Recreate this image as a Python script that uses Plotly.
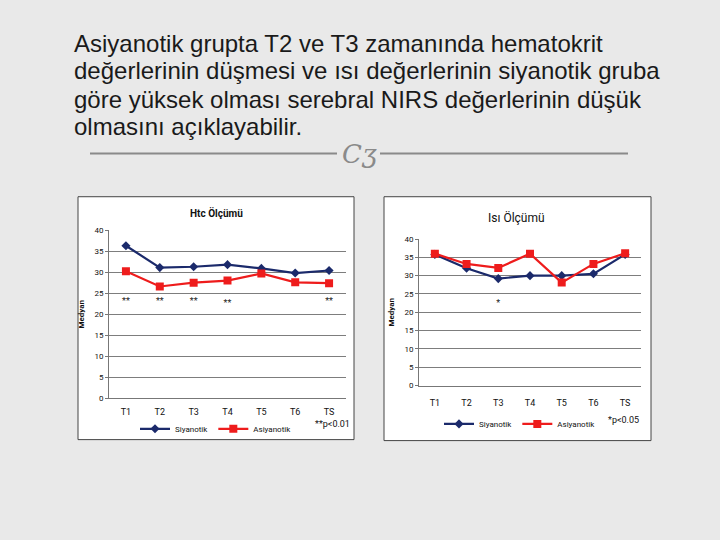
import plotly.graph_objects as go

categories = ["T1", "T2", "T3", "T4", "T5", "T6", "TS"]
x_idx = list(range(len(categories)))

htc_siyanotik = [36.3, 31.1, 31.3, 31.8, 30.9, 29.8, 30.4]
htc_asiyanotik = [30.2, 26.6, 27.5, 28.0, 29.7, 27.6, 27.4]
htc_star_idx = [0, 1, 2, 3, 6]
htc_star_y = [23.0, 23.0, 23.0, 22.6, 23.0]

isi_siyanotik = [35.8, 32.0, 29.2, 30.0, 30.0, 30.5, 35.8]
isi_asiyanotik = [36.0, 33.2, 32.1, 36.0, 28.1, 33.2, 36.1]
isi_star_idx = [2]
isi_star_y = [22.2]

slide_lines = [
    "Asiyanotik grupta T2 ve T3 zamanında hematokrit",
    "değerlerinin düşmesi ve ısı değerlerinin siyanotik gruba",
    "göre yüksek olması serebral NIRS değerlerinin düşük",
    "olmasını açıklayabilir.",
]

W, H = 720, 540
def px(x):
    return x / W
def py(y):
    return 1 - y / H

NAVY = "#1b2a6b"
RED = "#ee1c1c"
CF = "Liberation Sans Narrow, Roboto, Arial Narrow, sans-serif"

fig = go.Figure()

def add_series(xaxis, yaxis, legend, siy, asiy, star_idx, star_y, star_txt):
    fig.add_trace(go.Scatter(x=x_idx, y=siy, mode="lines+markers", name="Siyanotik",
                             line=dict(color=NAVY, width=2.2),
                             marker=dict(symbol="diamond", size=7, color=NAVY),
                             xaxis=xaxis, yaxis=yaxis, legend=legend))
    fig.add_trace(go.Scatter(x=x_idx, y=asiy, mode="lines+markers", name="Asiyanotik",
                             line=dict(color=RED, width=2.2),
                             marker=dict(symbol="square", size=8, color=RED),
                             xaxis=xaxis, yaxis=yaxis, legend=legend))
    fig.add_trace(go.Scatter(x=star_idx, y=star_y, mode="text", text=[star_txt] * len(star_idx),
                             textfont=dict(size=9, color="#222", family=CF),
                             showlegend=False, hoverinfo="skip",
                             xaxis=xaxis, yaxis=yaxis))

add_series("x", "y", "legend", htc_siyanotik, htc_asiyanotik, htc_star_idx, htc_star_y, "**")
add_series("x2", "y2", "legend2", isi_siyanotik, isi_asiyanotik, isi_star_idx, isi_star_y, "*")

xa = dict(tickmode="array", tickvals=x_idx, ticktext=categories, range=[-0.5, 6.5],
          showgrid=False, zeroline=False, showline=True, linecolor="#777", linewidth=1,
          ticks="", tickfont=dict(family=CF, size=9, color="#111"), fixedrange=True)
ya = dict(range=[0, 40], dtick=5, showgrid=True, gridcolor="#7d7d7d", gridwidth=1,
          zeroline=False, showline=True, linecolor="#777", linewidth=1, ticks="outside",
          ticklen=3, tickcolor="#777", tickfont=dict(family=CF, size=8, color="#111"),
          title=dict(text="<b>Medyan</b>", font=dict(family=CF, size=8, color="#111"), standoff=8))

leg = dict(orientation="h", xanchor="center", yanchor="middle", bgcolor="rgba(0,0,0,0)",
           font=dict(family=CF, size=8, color="#111"), itemwidth=30, tracegroupgap=0)

fig.update_layout(
    width=W, height=H, margin=dict(l=0, r=0, t=0, b=0),
    paper_bgcolor="#e9e9e9", plot_bgcolor="#d6d6d6",
    xaxis=dict(xa, domain=[px(109), px(346)], anchor="y", ticklabelstandoff=5),
    yaxis=dict(ya, domain=[py(401), py(230)], anchor="x"),
    xaxis2=dict(xa, domain=[px(419), px(641)], anchor="y2", ticklabelstandoff=9),
    yaxis2=dict(ya, domain=[py(388), py(239)], anchor="x2"),
    legend=dict(leg, x=px(216), y=py(432)),
    legend2=dict(leg, x=px(520), y=py(427)),
    showlegend=True,
)

shapes = [
    dict(type="rect", xref="paper", yref="paper", x0=px(78), x1=px(354), y0=py(443), y1=py(196),
         fillcolor="white", line=dict(color="#444", width=1), layer="below"),
    dict(type="rect", xref="paper", yref="paper", x0=px(384), x1=px(651), y0=py(444), y1=py(196),
         fillcolor="white", line=dict(color="#444", width=1), layer="below"),
    dict(type="line", xref="paper", yref="paper", x0=px(90), x1=px(337), y0=py(152), y1=py(152),
         line=dict(color="#8a8a8a", width=2)),
    dict(type="line", xref="paper", yref="paper", x0=px(380), x1=px(628), y0=py(152), y1=py(152),
         line=dict(color="#8a8a8a", width=2)),
]
fig.update_layout(shapes=shapes)

line_centers = [40, 68, 97, 125]
annotations = []
for txt, yc in zip(slide_lines, line_centers):
    annotations.append(dict(text=txt, x=px(72), y=py(yc), xref="paper", yref="paper",
                            xanchor="left", yanchor="middle", align="left", showarrow=False,
                            font=dict(family="Liberation Sans, Arial, sans-serif", size=24,
                                      color="#1a1a1a")))
annotations += [
    dict(text="<i>Cʒ</i>", x=px(359), y=py(153), xref="paper", yref="paper", xanchor="center",
         yanchor="middle", showarrow=False,
         font=dict(family="DejaVu Serif, serif", size=26, color="#8a8a8a")),
    dict(text="<b>Htc Ölçümü</b>", x=px(216), y=py(212), xref="paper", yref="paper",
         xanchor="center", yanchor="middle",
         showarrow=False, font=dict(family=CF, size=10, color="#111")),
    dict(text="Isı Ölçümü", x=px(516), y=py(217), xref="paper", yref="paper",
         xanchor="center", yanchor="middle",
         showarrow=False, font=dict(family=CF, size=12, color="#111")),
    dict(text="**p<0.01", x=px(332), y=py(427), xref="paper", yref="paper",
         xanchor="center", yanchor="middle",
         showarrow=False, font=dict(family=CF, size=9, color="#111")),
    dict(text="*p<0.05", x=px(623), y=py(423), xref="paper", yref="paper",
         xanchor="center", yanchor="middle",
         showarrow=False, font=dict(family=CF, size=9, color="#111")),
]
fig.update_layout(annotations=annotations)

fig.write_html("out.html", config={"displayModeBar": False},
               post_script="document.body.style.margin='0';")
